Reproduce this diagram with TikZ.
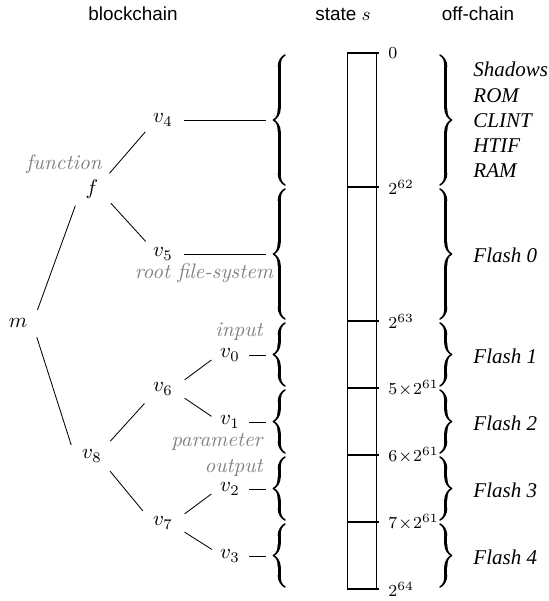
\documentclass[tikz,border=0pt]{standalone}
\usepackage{amsmath}
\usepackage{fontspec}
\setsansfont{Liberation Sans}
\newfontfamily\offchainfont{Liberation Serif}
\usetikzlibrary{decorations.pathreplacing, calligraphy}

\tikzset{
  vert/.style={circle, minimum size=22pt, inner sep=0pt},
  leaf/.style={circle, minimum size=18pt, inner sep=0pt},
  note/.style={text=gray, font=\itshape},
  head/.style={font=\sffamily\small},
  addr/.style={font=\footnotesize, anchor=west},
  off/.style={font=\offchainfont\itshape, anchor=west, align=left},
  leftbrace/.style={decorate, decoration={calligraphic brace, amplitude=5.5pt}, line width=1.5pt},
}

\begin{document}
\begin{tikzpicture}[x=0.476pt, y=-0.476pt]
\useasboundingbox (0,0) rectangle (549,601);

% column titles
\node[head] (hbc) at (133,14) {blockchain};
\node[head] (hst) at (343,14) {state $s$};
\node[head] (hoc) at (478,14) {off-chain};

% the tree
\node[vert] (m)  at (18,323)  {$m$};
\node[vert] (f)  at (92,189)  {$f$};
\node[vert] (v8) at (92,456)  {$v_8$};
\node[leaf, minimum size=20pt] (v4) at (163,120) {$v_4$};
\node[leaf, minimum size=20pt] (v5) at (163,254) {$v_5$};
\node[vert] (v6) at (163,389) {$v_6$};
\node[vert] (v7) at (163,523) {$v_7$};
\node[leaf] (v0) at (230,355) {$v_0$};
\node[leaf] (v1) at (230,422) {$v_1$};
\node[leaf] (v2) at (230,489) {$v_2$};
\node[leaf] (v3) at (230,556) {$v_3$};

\draw (m.34)  -- (f.225);
\draw (m.-37) -- (v8.152);
\draw (f.42)  -- (v4.214);
\draw (f.-37) -- (v5.144);
\draw (v8.39) -- (v6.218);
\draw (v8.-40) -- (v7.149);
\draw (v6.23) -- (v0.195);
\draw (v6.-23) -- (v1.163);
\draw (v7.23) -- (v2.195);
\draw (v7.-23) -- (v3.160);

% gray notes
\node[note] (nf)  at (64,164)  {function};
\node[note] (nrf) at (204,273) {root file-system};
\node[note, anchor=east] (nin)  at (270,332) {input};
\node[note, anchor=east] (npar) at (270,442) {parameter};
\node[note, anchor=east] (nout) at (270,468) {output};

% leaves to the braces
\foreach \v/\y in {v4/120, v5/254, v0/355, v1/422, v2/489, v3/556}
  \coordinate (b\v) at (266,\y);
\foreach \v in {v4, v5, v0, v1, v2, v3}
  \draw (\v) -- (b\v);

% the state s
\draw (347,53) rectangle (376,589);
\foreach \y/\lab in {53/0, 187/2^{62}, 321/2^{63}, 388/5\!\times\!2^{61},
                     455/6\!\times\!2^{61}, 522/7\!\times\!2^{61}, 589/2^{64}}{
  \draw[line width=0.6pt] (347,\y) -- (379,\y);
  \node[addr] at (381,\y) {$\lab$};
}

% braces on both sides
\foreach \a/\b in {53/187, 187/321, 321/388, 388/455, 455/522, 522/589}{
  \draw[leftbrace] (285,\b-2) -- (285,\a+2);
  \draw[leftbrace] (440,\a+2) -- (440,\b-2);
}

% off-chain parts
\node[off] (shad) at (466,120) {Shadows\\ROM\\CLINT\\HTIF\\RAM};
\node[off] (fl0) at (466,255) {Flash 0};
\node[off] (fl1) at (466,356) {Flash 1};
\node[off] (fl2) at (466,423) {Flash 2};
\node[off] (fl3) at (466,490) {Flash 3};
\node[off] (fl4) at (466,557) {Flash 4};
\end{tikzpicture}
\end{document}
